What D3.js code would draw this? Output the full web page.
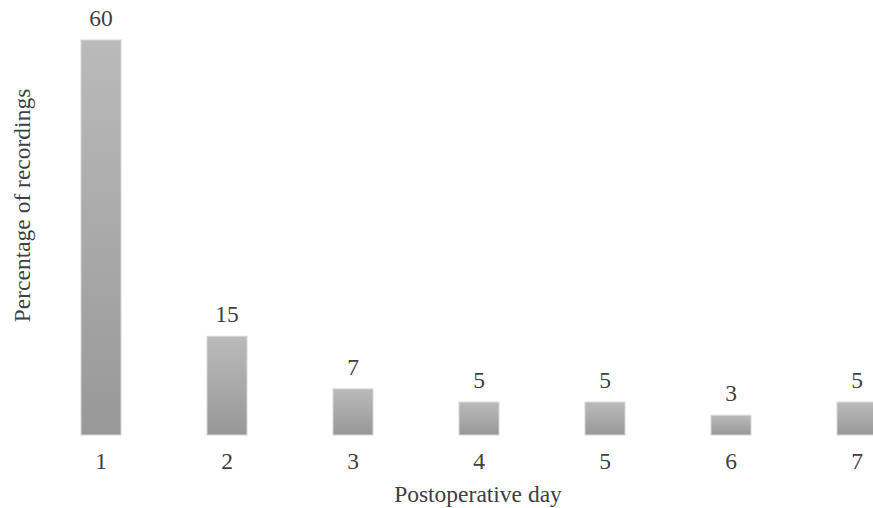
<!DOCTYPE html>
<html>
<head>
<meta charset="utf-8">
<script src="https://cdn.jsdelivr.net/npm/d3@7"></script>
<style>
  html, body { margin: 0; padding: 0; background: #fff; }
  svg { display: block; }
  text { font-family: "Liberation Serif", "Times New Roman", serif; fill: #404040; }
</style>
</head>
<body>
<svg id="chart" width="873" height="508"></svg>
<script>
// Share of recordings by postoperative day
const days = ["1", "2", "3", "4", "5", "6", "7"];
const percentages = [60, 15, 7, 5, 5, 3, 5];

const fontSize = 23.5;
const svg = d3.select("#chart");

const x = d3.scaleBand()
  .domain(days)
  .range([38, 920])
  .paddingInner(0.6825)
  .paddingOuter(0.34125);

const y = d3.scaleLinear()
  .domain([0, 60])
  .range([435, 40]);

// vertical grey gradient for the bars
const defs = svg.append("defs");
const grad = defs.append("linearGradient")
  .attr("id", "barFill")
  .attr("x1", 0).attr("y1", 0).attr("x2", 0).attr("y2", 1);
grad.append("stop").attr("offset", "0%").attr("stop-color", "#bababa");
grad.append("stop").attr("offset", "100%").attr("stop-color", "#989898");

svg.append("g").selectAll("rect")
  .data(percentages)
  .join("rect")
  .attr("x", (d, i) => x(days[i]))
  .attr("y", d => y(d))
  .attr("width", x.bandwidth())
  .attr("height", d => y(0) - y(d))
  .attr("fill", "url(#barFill)")
  .attr("stroke", "#d6d6d6")
  .attr("stroke-width", 1);

// value labels above the bars
svg.append("g").selectAll("text")
  .data(percentages)
  .join("text")
  .attr("x", (d, i) => x(days[i]) + x.bandwidth() / 2)
  .attr("y", d => y(d) - 14)
  .attr("text-anchor", "middle")
  .attr("font-size", fontSize)
  .text(d => d);

// category axis: labels only, no line or ticks
const xAxis = svg.append("g")
  .attr("transform", "translate(0,435)")
  .call(d3.axisBottom(x).tickSize(0).tickPadding(17));
xAxis.select(".domain").remove();
xAxis.selectAll("text")
  .attr("font-size", fontSize);

svg.append("text")
  .attr("x", 478)
  .attr("y", 502)
  .attr("text-anchor", "middle")
  .attr("font-size", fontSize)
  .text("Postoperative day");

svg.append("text")
  .attr("transform", "translate(30,205.5) rotate(-90)")
  .attr("text-anchor", "middle")
  .attr("font-size", fontSize)
  .text("Percentage of recordings");
</script>
</body>
</html>
